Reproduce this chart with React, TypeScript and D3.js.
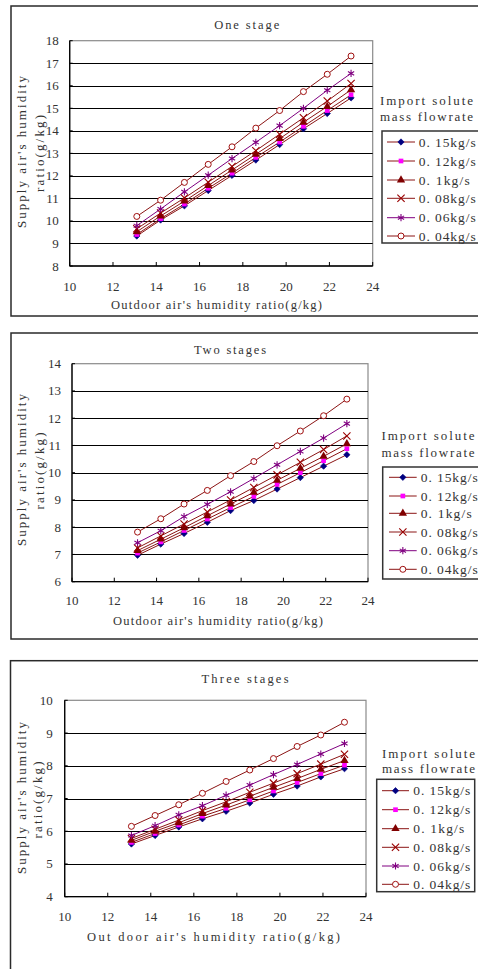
import React from "react";
import * as d3 from "d3";

// ---------- data ----------
const outdoorX = [13.1, 14.2, 15.3, 16.4, 17.5, 18.6, 19.7, 20.8, 21.9, 23.0];
const seriesNames = ["0. 15kg/s", "0. 12kg/s", "0. 1kg/s", "0. 08kg/s", "0. 06kg/s", "0. 04kg/s"];
const xTicks = [10, 12, 14, 16, 18, 20, 22, 24];

// One stage
const one015 = [9.33, 10.04, 10.67, 11.35, 12.02, 12.70, 13.39, 14.09, 14.77, 15.46];
const one012 = [9.40, 10.10, 10.75, 11.45, 12.12, 12.82, 13.50, 14.20, 14.90, 15.60];
const one010 = [9.52, 10.22, 10.88, 11.57, 12.26, 12.96, 13.65, 14.38, 15.08, 15.82];
const one008 = [9.65, 10.35, 11.02, 11.72, 12.42, 13.12, 13.85, 14.58, 15.32, 16.10];
const one006 = [9.79, 10.53, 11.29, 12.03, 12.77, 13.49, 14.23, 15.00, 15.80, 16.55];
const one004 = [10.20, 10.92, 11.71, 12.51, 13.29, 14.12, 14.90, 15.74, 16.51, 17.32];

// Two stages
const two015 = [6.97, 7.38, 7.77, 8.18, 8.61, 8.98, 9.40, 9.82, 10.24, 10.66];
const two012 = [7.05, 7.46, 7.88, 8.30, 8.72, 9.13, 9.57, 10.00, 10.44, 10.88];
const two010 = [7.14, 7.56, 7.98, 8.42, 8.85, 9.28, 9.72, 10.16, 10.60, 11.06];
const two008 = [7.24, 7.68, 8.12, 8.56, 9.00, 9.46, 9.92, 10.38, 10.85, 11.35];
const two006 = [7.43, 7.87, 8.39, 8.84, 9.30, 9.79, 10.29, 10.78, 11.27, 11.80];
const two004 = [7.82, 8.31, 8.85, 9.35, 9.89, 10.41, 10.99, 11.53, 12.09, 12.70];

// Three stages
const three015 = [5.61, 5.87, 6.13, 6.38, 6.61, 6.86, 7.13, 7.38, 7.66, 7.91];
const three012 = [5.66, 5.93, 6.19, 6.46, 6.70, 6.96, 7.23, 7.49, 7.76, 8.02];
const three010 = [5.72, 6.00, 6.26, 6.54, 6.80, 7.07, 7.34, 7.61, 7.89, 8.16];
const three008 = [5.78, 6.06, 6.34, 6.63, 6.90, 7.19, 7.47, 7.76, 8.05, 8.35];
const three006 = [5.87, 6.17, 6.50, 6.78, 7.10, 7.41, 7.73, 8.04, 8.36, 8.68];
const three004 = [6.15, 6.48, 6.81, 7.16, 7.52, 7.87, 8.22, 8.59, 8.94, 9.33];

// ---------- styles ----------
const FONT = "'Liberation Serif', 'DejaVu Serif', serif";
const LINE_RED = "#8b1414";
const seriesStyle = [
  { line: LINE_RED, marker: "diamond", color: "#000080" },
  { line: LINE_RED, marker: "square", color: "#ff00ff" },
  { line: LINE_RED, marker: "triangle", color: "#800000" },
  { line: LINE_RED, marker: "x", color: "#990000" },
  { line: "#800080", marker: "asterisk", color: "#800080" },
  { line: LINE_RED, marker: "circle", color: "#a01010" },
];

function Marker({ type, color, x, y }: { type: string; color: string; x: number; y: number }) {
  const tr = `translate(${x},${y})`;
  if (type === "diamond") {
    const p = d3.symbol(d3.symbolSquare, 20)();
    return <path d={p!} transform={`${tr} rotate(45)`} fill={color} stroke={color} strokeWidth={0.6} />;
  }
  if (type === "square") {
    return <path d={d3.symbol(d3.symbolSquare, 22)()!} transform={tr} fill={color} />;
  }
  if (type === "triangle") {
    return <path d={d3.symbol(d3.symbolTriangle, 30)()!} transform={tr} fill={color} />;
  }
  if (type === "x") {
    return <path d={d3.symbol(d3.symbolX, 36)()!} transform={tr} fill="none" stroke={color} strokeWidth={1.1} />;
  }
  if (type === "asterisk") {
    return <path d={d3.symbol(d3.symbolAsterisk, 36)()!} transform={tr} fill="none" stroke={color} strokeWidth={1.1} />;
  }
  return <circle cx={x} cy={y} r={3} fill="#fff" stroke={color} strokeWidth={1} />;
}

function T(props: any) {
  const { w, children, ...rest } = props;
  return (
    <text
      fontFamily={FONT}
      fill="#333"
      {...rest}
      {...(w ? { textLength: w, lengthAdjust: "spacing" } : {})}
    >
      {children}
    </text>
  );
}

type PanelCfg = {
  title: string;
  titleX: number;
  titleY: number;
  titleW: number;
  xLabel: string;
  xLabelX: number;
  xLabelY: number;
  xLabelW: number;
  yLab1Y: number;
  yLab2Y: number;
  yLab2X: number;
  x0: number;
  x1: number;
  yTop: number;
  yBot: number;
  yDomain: [number, number];
  yTickRight: number;
  xTickY: number;
  series: number[][];
  box: { x: number; y: number; h: number };
  legend: { bx: number; by: number; bw: number; bh: number; lx0: number; lx1: number; tx: number; rows: number[]; t1: number; t2: number; tc: number };
};

function Panel({ c }: { c: PanelCfg }) {
  const x = d3.scaleLinear().domain([10, 24]).range([c.x0, c.x1]);
  const y = d3.scaleLinear().domain(c.yDomain).range([c.yBot, c.yTop]);
  const yTicks = d3.range(c.yDomain[0], c.yDomain[1] + 1, 1);
  const line = d3
    .line<number>()
    .x((_, i) => x(outdoorX[i]))
    .y((v) => y(v));
  const L = c.legend;
  return (
    <g>
      <rect x={c.box.x} y={c.box.y} width={520} height={c.box.h} fill="none" stroke="#2a2a2a" strokeWidth={1.5} />
      <T x={c.titleX} y={c.titleY} fontSize={12.5} textAnchor="middle" dominantBaseline="central" w={c.titleW}>
        {c.title}
      </T>
      {/* plot area border */}
      <rect x={c.x0} y={c.yTop} width={c.x1 - c.x0} height={c.yBot - c.yTop} fill="#fff" stroke="#8a8a8a" strokeWidth={1.2} />
      {/* gridlines */}
      {yTicks.slice(1, -1).map((t) => (
        <line key={t} x1={c.x0} x2={c.x1} y1={Math.round(y(t)) + 0.5} y2={Math.round(y(t)) + 0.5} stroke="#000" strokeWidth={1} />
      ))}
      {/* axes */}
      <line x1={c.x0} x2={c.x0} y1={c.yTop} y2={c.yBot} stroke="#000" strokeWidth={1.3} />
      <line x1={c.x0} x2={c.x1} y1={c.yBot} y2={c.yBot} stroke="#000" strokeWidth={1.3} />
      {xTicks.map((t) => (
        <line key={t} x1={x(t)} x2={x(t)} y1={c.yBot} y2={c.yBot - 4} stroke="#000" strokeWidth={1} />
      ))}
      {yTicks.map((t) => (
        <line key={"yt" + t} x1={c.x0} x2={c.x0 + 3} y1={y(t)} y2={y(t)} stroke="#000" strokeWidth={1} />
      ))}
      {/* tick labels */}
      {yTicks.map((t) => (
        <T key={"yl" + t} x={c.yTickRight} y={y(t)} fontSize={13} textAnchor="end" dominantBaseline="central">
          {t}
        </T>
      ))}
      {xTicks.map((t) => (
        <T key={"xl" + t} x={x(t)} y={c.xTickY} fontSize={13} textAnchor="middle" dominantBaseline="central">
          {t}
        </T>
      ))}
      {/* axis titles */}
      <T x={c.xLabelX} y={c.xLabelY} fontSize={12.5} textAnchor="middle" dominantBaseline="central" w={c.xLabelW}>
        {c.xLabel}
      </T>
      <T
        transform={`translate(21,${c.yLab1Y}) rotate(-90)`}
        fontSize={13}
        textAnchor="middle"
        dominantBaseline="central"
        w={152}
      >
        Supply air's humidity
      </T>
      <T
        transform={`translate(${c.yLab2X},${c.yLab2Y}) rotate(-90)`}
        fontSize={13}
        textAnchor="middle"
        dominantBaseline="central"
        w={77}
      >
        ratio(g/kg)
      </T>
      {/* series */}
      {c.series.map((s, si) => (
        <path key={"l" + si} d={line(s)!} fill="none" stroke={seriesStyle[si].line} strokeWidth={1} />
      ))}
      {c.series.map((s, si) =>
        s.map((v, i) => (
          <Marker key={`m${si}-${i}`} type={seriesStyle[si].marker} color={seriesStyle[si].color} x={x(outdoorX[i])} y={y(v)} />
        ))
      )}
      {/* legend */}
      <T x={L.tc} y={L.t1} fontSize={13} textAnchor="middle" dominantBaseline="central" w={93}>
        Import solute
      </T>
      <T x={L.tc} y={L.t2} fontSize={13} textAnchor="middle" dominantBaseline="central" w={93}>
        mass flowrate
      </T>
      <rect x={L.bx} y={L.by} width={L.bw} height={L.bh} fill="#fff" stroke="#333" strokeWidth={1.5} />
      {seriesNames.map((n, i) => (
        <g key={"lg" + i}>
          <line x1={L.lx0} x2={L.lx1} y1={L.rows[i]} y2={L.rows[i]} stroke={seriesStyle[i].line} strokeWidth={1} />
          <Marker type={seriesStyle[i].marker} color={seriesStyle[i].color} x={(L.lx0 + L.lx1) / 2} y={L.rows[i]} />
          <T x={L.tx} y={L.rows[i]} fontSize={13.5} dominantBaseline="central" w={n.length > 8 ? 57 : 51}>
            {n}
          </T>
        </g>
      ))}
    </g>
  );
}

const panels: PanelCfg[] = [
  {
    title: "One stage",
    titleX: 246.7,
    titleY: 25,
    titleW: 65,
    xLabel: "Outdoor air's humidity ratio(g/kg)",
    xLabelX: 216.5,
    xLabelY: 305,
    xLabelW: 211,
    yLab1Y: 152,
    yLab2Y: 153.5,
    yLab2X: 39,
    x0: 69.7,
    x1: 372.7,
    yTop: 40.7,
    yBot: 266,
    yDomain: [8, 18],
    yTickRight: 58.7,
    xTickY: 286,
    series: [one015, one012, one010, one008, one006, one004],
    box: { x: 11, y: 6, h: 310 },
    legend: { bx: 382, by: 131, bw: 120, bh: 112, lx0: 387, lx1: 415, tx: 418.7, rows: [142, 161, 180, 198.3, 217.7, 236], t1: 100, t2: 116.7, tc: 426.5 },
  },
  {
    title: "Two stages",
    titleX: 230,
    titleY: 350,
    titleW: 72,
    xLabel: "Outdoor air's humidity ratio(g/kg)",
    xLabelX: 218,
    xLabelY: 621,
    xLabelW: 210,
    yLab1Y: 470,
    yLab2Y: 471,
    yLab2X: 39,
    x0: 72,
    x1: 368,
    yTop: 363.7,
    yBot: 581.7,
    yDomain: [6, 14],
    yTickRight: 61,
    xTickY: 600.7,
    series: [two015, two012, two010, two008, two006, two004],
    box: { x: 11, y: 333, h: 306 },
    legend: { bx: 382.7, by: 467, bw: 120, bh: 112, lx0: 389, lx1: 416.7, tx: 420.7, rows: [477.3, 496, 513.3, 532, 550.7, 569.3], t1: 435, t2: 452, tc: 428 },
  },
  {
    title: "Three stages",
    titleX: 245,
    titleY: 679,
    titleW: 87,
    xLabel: "Out door air's humidity ratio(g/kg)",
    xLabelX: 213.5,
    xLabelY: 937.3,
    xLabelW: 253,
    yLab1Y: 798,
    yLab2Y: 800,
    yLab2X: 37,
    x0: 64.7,
    x1: 366,
    yTop: 700.3,
    yBot: 896.7,
    yDomain: [4, 10],
    yTickRight: 52.7,
    xTickY: 916.7,
    series: [three015, three012, three010, three008, three006, three004],
    box: { x: 10.5, y: 660.7, h: 400 },
    legend: { bx: 376.7, by: 779.3, bw: 98, bh: 112.4, lx0: 382, lx1: 409, tx: 413.3, rows: [790.7, 809.7, 828.7, 847.3, 866, 884.3], t1: 753, t2: 768.7, tc: 428.5 },
  },
];

export default function App() {
  return (
    <svg
      width={478}
      height={969}
      viewBox="0 0 478 969"
      style={{ position: "absolute", left: 0, top: 0, background: "#fff" }}
    >
      <rect x={0} y={0} width={478} height={969} fill="#fff" />
      {panels.map((p, i) => (
        <Panel key={i} c={p} />
      ))}
    </svg>
  );
}
